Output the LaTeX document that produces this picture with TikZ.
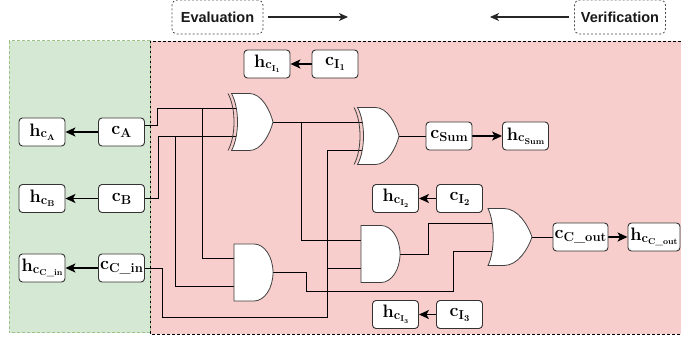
\documentclass[tikz,border=0pt]{standalone}
\usepackage{fontspec}
\newfontfamily\labelfont{Liberation Sans}
\usetikzlibrary{arrows.meta}
\definecolor{greenfill}{HTML}{D5E8D4}
\definecolor{greenline}{HTML}{9CC287}
\definecolor{redfill}{HTML}{F8CECC}
\pgfdeclarelayer{bg}
\pgfdeclarelayer{fg}
\pgfsetlayers{bg,main,fg}
% h_{c_{#1}} and c_{#1} labels, set as text
\newcommand{\hlab}[1]{{\bfseries h\raisebox{-1.5pt}{\fontsize{13}{13}\selectfont c\raisebox{-2.5pt}{\fontsize{8.5}{8.5}\selectfont #1}}}}
\newcommand{\clab}[1]{{\bfseries c\raisebox{-3pt}{\fontsize{13}{13}\selectfont #1}}}
\newcommand{\ssub}[1]{\raisebox{-1.5pt}{\fontsize{6}{6}\selectfont #1}}
\newcommand{\csub}[1]{\raisebox{-2pt}{\fontsize{9}{9}\selectfont #1}}
\tikzset{
 box/.style={draw=black!80, line width=0.9pt, fill=white, rounded corners=3.5pt,
   minimum width=46pt, minimum height=28pt, inner sep=0pt,
   font=\fontsize{18}{20}\selectfont},
 wire/.style={draw=black, line width=0.8pt},
 link/.style={draw=black, line width=1.5pt, -{Stealth[length=10pt,width=9pt,inset=2.5pt]}},
 gate/.style={fill=white, draw=black!75, line width=0.8pt},
 gateline/.style={draw=black!75, line width=0.8pt},
 phase/.style={draw=black!70, dash pattern=on 2pt off 2pt, rounded corners=5pt,
   line width=0.8pt, minimum width=91pt, minimum height=34pt, inner sep=0pt,
   font=\labelfont\bfseries\fontsize{14.5}{17}\selectfont, text=black!90},
 flow/.style={draw=black!85, line width=1.2pt, -{Stealth[length=9pt,width=8pt,inset=2.5pt]}},
 xorgate/.pic={
   \path[gate] (0,-28.5) -- (18,-28.5) .. controls (30,-28.5) and (38.5,-12) .. (41.5,0)
     .. controls (38.5,12) and (30,28.5) .. (18,28.5) -- (0,28.5)
     .. controls (8,14) and (8,-14) .. (0,-28.5) -- cycle;
   \draw[gateline] (-3.5,-28.5) .. controls (4.5,-14) and (4.5,14) .. (-3.5,28.5);
   \coordinate (-in1) at (7,-14);
   \coordinate (-in2) at (7,14);
   \coordinate (-out) at (41.5,0);
 },
 andgate/.pic={
   \path[gate] (0,-28.5) -- (20,-28.5) .. controls (30.5,-28.5) and (39,-15.7) .. (39,0)
     .. controls (39,15.7) and (30.5,28.5) .. (20,28.5) -- (0,28.5) -- cycle;
   \coordinate (-in1) at (1,-14);
   \coordinate (-in2) at (1,14);
   \coordinate (-out) at (39,0);
 },
 orgate/.pic={
   \path[gate] (0,-28.5) -- (16,-28.5) .. controls (30,-28.5) and (40,-12) .. (44,0)
     .. controls (40,12) and (30,28.5) .. (16,28.5) -- (0,28.5)
     .. controls (7,14) and (7,-14) .. (0,-28.5) -- cycle;
   \coordinate (-in1) at (6,-14);
   \coordinate (-in2) at (6,14);
   \coordinate (-out) at (44,0);
 },
}
\begin{document}
\begin{tikzpicture}[x=1pt,y=-1pt]
\useasboundingbox (0,0) rectangle (681,339);
\begin{scope}
\clip (0,0) rectangle (681,339);
\begin{pgfonlayer}{bg}
 \fill[white] (0,0) rectangle (681,339);
 \path[fill=redfill, draw=black, dash pattern=on 3pt off 2pt, line width=0.8pt] (150,41) rectangle (700,334);
 \path[fill=greenfill, draw=greenline, dash pattern=on 3pt off 2pt, line width=1pt] (9,41) rectangle (150,333);
\end{pgfonlayer}

\begin{pgfonlayer}{fg}
 % phase labels
 \node[phase] (eval) at (217.5,17) {Evaluation};
 \node[phase] (verif) at (620,17) {Verification};
 % gates
 \pic (x1) at (231.5,122) {xorgate};
 \pic (x2) at (357.5,136) {xorgate};
 \pic (a1) at (234,272.5) {andgate};
 \pic (a2) at (361,254) {andgate};
 \pic (o1) at (488,237) {orgate};
 % boxes
 \node[box] (hA) at (42,132) {\hlab{A}};
 \node[box] (cA) at (121.5,132) {\clab{A}};
 \node[box] (hB) at (42,198.5) {\hlab{B}};
 \node[box] (cB) at (121.5,198.5) {\clab{B}};
 \node[box] (hCin) at (42,268) {\hlab{C\_in}};
 \node[box] (cCin) at (121.5,268) {\clab{C\_in}};
 \node[box] (hI1) at (267,64) {\hlab{I\ssub{1}}};
 \node[box] (cI1) at (335,64) {\clab{I\csub{1}}};
 \node[box] (cSum) at (449,136) {\clab{Sum}};
 \node[box] (hSum) at (525.5,136) {\hlab{Sum}};
 \node[box] (hI2) at (395.5,198.5) {\hlab{I\ssub{2}}};
 \node[box] (cI2) at (459.5,198.5) {\clab{I\csub{2}}};
 \node[box, minimum width=55pt] (cCout) at (580.5,237) {\clab{C\_out}};
 \node[box, minimum width=52pt] (hCout) at (654,237) {\hlab{C\_out}};
 \node[box] (hI3) at (395.5,314.5) {\hlab{I\ssub{3}}};
 \node[box] (cI3) at (459.5,314.5) {\clab{I\csub{3}}};
\end{pgfonlayer}

% phase arrows
\coordinate (evalto) at (348,17);
\coordinate (verifto) at (490,17);
\draw[flow] ([xshift=5pt]eval.east) -- (evalto);
\draw[flow] ([xshift=-5pt]verif.west) -- (verifto);

% wires
\draw[wire] ([yshift=7pt]cA.east) -- ++(12,0) |- (x1-in1);
\draw[wire] (cB.east) -- ++(13,0) |- (x1-in2);
\draw[wire] (202,0 |- x1-in1) |- (a1-in1);
\draw[wire] (175,0 |- x1-in2) |- (a1-in2);
\draw[wire] (x1-out) -- (x2-in1);
\draw[wire] (301,0 |- x1-out) |- (a2-in1);
\draw[wire] (cCin.east) -- ++(17,0) |- (327,317) |- (x2-in2);
\draw[wire] (327,0 |- a2-in2) -- (a2-in2);
\draw[wire] (a1-out) -| (306,291) -| (453,0 |- o1-in2) -- (o1-in2);
\draw[wire] (a2-out) -| (428,0 |- o1-in1) -- (o1-in1);
\draw[wire] (x2-out) -- (cSum.west);
\draw[wire] (o1-out) -- (cCout.west);

% links between boxes
\draw[link] (cA) -- (hA);
\draw[link] (cB) -- (hB);
\draw[link] (cCin) -- (hCin);
\draw[link] (cI1) -- (hI1);
\draw[link] (cI2) -- (hI2);
\draw[link] (cI3) -- (hI3);
\draw[link] (cSum) -- (hSum);
\draw[link] (cCout) -- (hCout);
\end{scope}
\end{tikzpicture}
\end{document}
